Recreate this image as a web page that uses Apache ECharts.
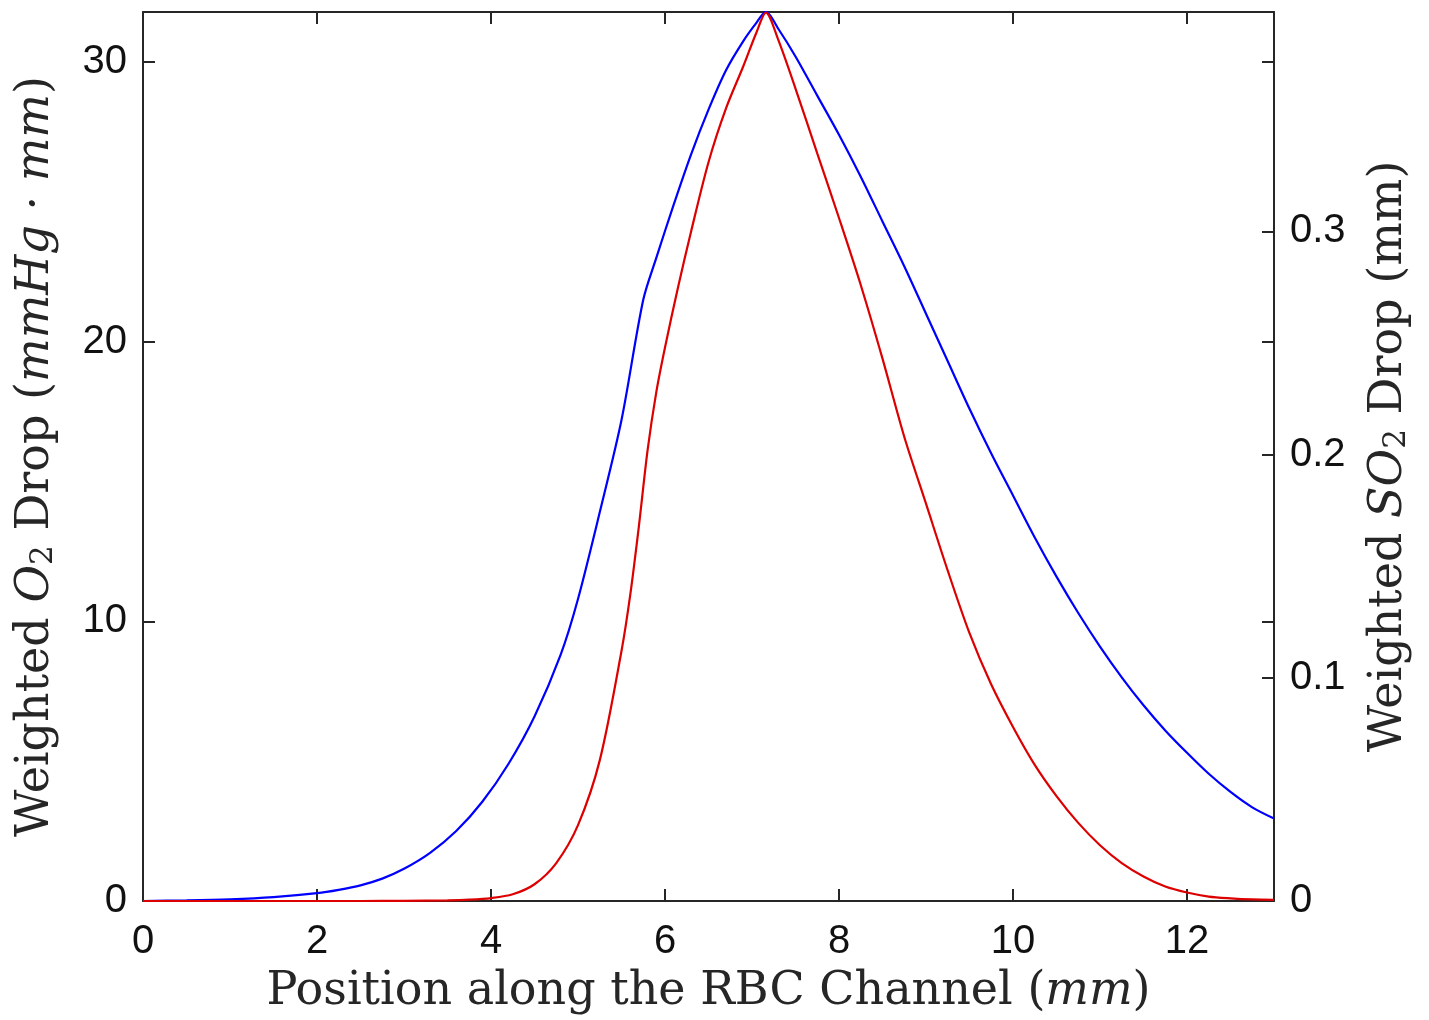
<!DOCTYPE html>
<html>
<head>
<meta charset="utf-8">
<script src="https://cdn.jsdelivr.net/npm/echarts@6/dist/echarts.min.js"></script>
<style>
html,body{margin:0;padding:0;background:#fff;}
#chart{width:1429px;height:1020px;}
</style>
</head>
<body>
<div id="chart"></div>
<script>
// Blue curve: weighted O2 drop (left axis)
const positionsBlue = [0,0.5,1,1.5,2,2.25,2.5,2.75,3,3.3,3.6,3.9,4.2,4.5,4.8,5.0,5.25,5.5,5.75,5.9,6.1,6.3,6.5,6.7,6.9,7.05,7.16,7.3,7.5,7.75,8.0,8.25,8.5,8.75,9.0,9.25,9.5,9.75,10.0,10.25,10.5,10.75,11.0,11.25,11.5,11.75,12.0,12.25,12.5,12.75,13.0];
const o2Drop = [0,0.02,0.06,0.14,0.28,0.40,0.56,0.8,1.15,1.72,2.5,3.55,4.9,6.6,8.8,10.8,13.9,17.2,21.5,23.0,24.9,26.7,28.3,29.7,30.75,31.4,31.8,31.2,30.2,28.8,27.4,25.9,24.3,22.7,21.0,19.3,17.6,16.0,14.5,13.0,11.6,10.3,9.1,8.0,7.0,6.1,5.3,4.55,3.9,3.35,2.95];
// Red curve: weighted SO2 drop (right axis)
const positionsRed = [0,2.5,3.0,3.5,3.75,4.0,4.25,4.5,4.75,5.0,5.25,5.5,5.6,5.7,5.8,5.9,6.0,6.15,6.3,6.5,6.7,6.9,7.05,7.16,7.3,7.5,7.75,8.0,8.25,8.5,8.75,9.0,9.25,9.5,9.75,10.0,10.25,10.5,10.75,11.0,11.25,11.5,11.75,12.0,12.25,12.5,12.75,13.0];
const so2Drop = [0,0,0.0001,0.0003,0.0006,0.0013,0.003,0.0075,0.017,0.034,0.063,0.112,0.137,0.168,0.202,0.228,0.248,0.275,0.300,0.331,0.355,0.374,0.389,0.398,0.386,0.364,0.335,0.306,0.276,0.243,0.208,0.178,0.148,0.120,0.097,0.078,0.061,0.047,0.035,0.025,0.017,0.011,0.0065,0.0038,0.002,0.0012,0.0007,0.0005];
// Ticks
const xTicks = [0,2,4,6,8,10,12];
const leftTicks = [0,10,20,30];
const rightTicks = [0,0.1,0.2,0.3];
const xRange = [0, 13];
const leftRange = [0, 31.79];
const rightRange = [0, 0.3983];

const AX = '#262626';
const tickFont = {fontFamily: 'Liberation Sans', fontSize: 40, color: '#111'};
const serif = 'DejaVu Serif';
const TS = 46;
const titleRich = {
  n: {fontFamily: serif, fontSize: TS, color: AX},
  i: {fontFamily: serif, fontStyle: 'italic', fontSize: TS, color: AX},
  s: {fontFamily: serif, fontSize: 31, color: AX, verticalAlign: 'bottom'}
};

const blueData = positionsBlue.map((x, k) => [x, o2Drop[k]]);
const redData = positionsRed.map((x, k) => [x, so2Drop[k]]);

const tickStyle = {color: AX, width: 2};

const chart = echarts.init(document.getElementById('chart'), null, {renderer: 'canvas'});
chart.setOption({
  animation: false,
  backgroundColor: '#fff',
  grid: {left: 143, right: 155, top: 12, bottom: 117, containLabel: false},
  xAxis: [
    {
      type: 'value', min: xRange[0], max: xRange[1], position: 'bottom',
      axisLine: {show: true, onZero: false, lineStyle: {color: AX, width: 2}},
      axisTick: {show: true, inside: true, length: 12, lineStyle: tickStyle, customValues: xTicks},
      axisLabel: {show: true, margin: 21, ...tickFont, customValues: xTicks},
      splitLine: {show: false},
      name: '{n|Position along the RBC Channel (}{i|mm}{n|)}',
      nameLocation: 'middle', nameGap: 68,
      nameTextStyle: {rich: titleRich}
    },
    {
      type: 'value', min: xRange[0], max: xRange[1], position: 'top',
      axisLine: {show: true, onZero: false, lineStyle: {color: AX, width: 2}},
      axisTick: {show: true, inside: true, length: 12, lineStyle: tickStyle, customValues: xTicks},
      axisLabel: {show: false},
      splitLine: {show: false}
    }
  ],
  yAxis: [
    {
      type: 'value', min: leftRange[0], max: leftRange[1], position: 'left',
      axisLine: {show: true, onZero: false, lineStyle: {color: AX, width: 2}},
      axisTick: {show: true, inside: true, length: 12, lineStyle: tickStyle, customValues: leftTicks},
      axisLabel: {show: true, margin: 16, ...tickFont, customValues: leftTicks},
      splitLine: {show: false},
      name: '{n|Weighted }{i|O}{s|2}{n| Drop (}{i|mmHg · mm}{n|)}',
      nameLocation: 'middle', nameGap: 84, nameRotate: 90,
      nameTextStyle: {rich: titleRich}
    },
    {
      type: 'value', min: rightRange[0], max: rightRange[1], position: 'right', offset: 0,
      axisLine: {show: true, onZero: false, lineStyle: {color: AX, width: 2}},
      axisTick: {show: true, inside: true, length: 12, lineStyle: tickStyle, customValues: rightTicks},
      axisLabel: {show: true, margin: 16, ...tickFont, customValues: rightTicks},
      splitLine: {show: false},
      name: '{n|Weighted }{i|SO}{s|2}{n| Drop (mm)}',
      nameLocation: 'middle', nameGap: 92, nameRotate: 90,
      nameTextStyle: {rich: titleRich}
    },
    {
      type: 'value', min: leftRange[0], max: leftRange[1], position: 'right', offset: 0,
      axisLine: {show: false, onZero: false},
      axisTick: {show: true, inside: true, length: 12, lineStyle: tickStyle, customValues: leftTicks},
      axisLabel: {show: false},
      splitLine: {show: false}
    }
  ],
  series: [
    {
      type: 'line', name: 'O2', xAxisIndex: 0, yAxisIndex: 0, data: blueData,
      showSymbol: false, smooth: 0.3,
      lineStyle: {color: '#0000ff', width: 2.2}, z: 3
    },
    {
      type: 'line', name: 'SO2', xAxisIndex: 0, yAxisIndex: 1, data: redData,
      showSymbol: false, smooth: 0.3,
      lineStyle: {color: '#dd0000', width: 2.2}, z: 4
    }
  ]
});
</script>
</body>
</html>
